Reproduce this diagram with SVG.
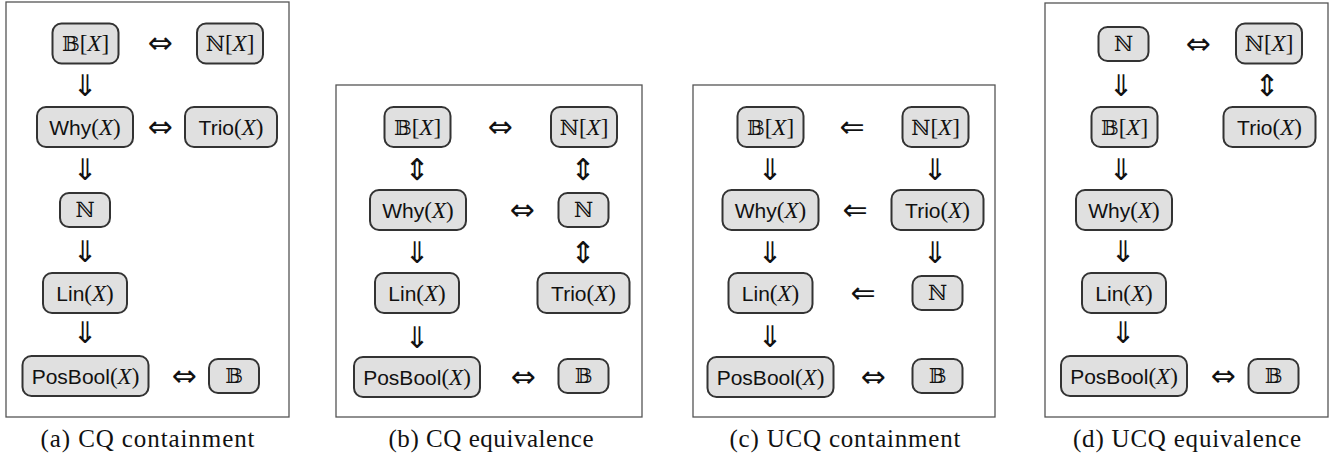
<svg xmlns="http://www.w3.org/2000/svg" width="1336" height="458" viewBox="0 0 1336 458">
<style>
.n rect{fill:#e0e0e0;stroke:#333;stroke-width:2}
.n text{font-size:21px;text-anchor:middle;fill:#111}
.sf{font-family:"Liberation Sans",Arial,sans-serif}
.rm{font-family:"Liberation Serif","Times New Roman",serif;font-size:23px}
.it{font-family:"Liberation Serif","Times New Roman",serif;font-style:italic;font-size:23px}
.bb{font-family:"DejaVu Serif",serif;font-weight:normal}
.ar{font-family:"DejaVu Sans",sans-serif;font-size:30px;text-anchor:middle;fill:#111}
.frame{fill:none;stroke:#555;stroke-width:1.3}
.cap{font-family:"Liberation Serif","Times New Roman",serif;font-size:25px;text-anchor:middle;fill:#111}
</style>
<rect width="1336" height="458" fill="#fff"/>
<g id="frames">
<rect class="frame" x="6" y="2" width="283" height="415"/>
<rect class="frame" x="336" y="85" width="306" height="332"/>
<rect class="frame" x="693" y="85" width="302" height="332"/>
<rect class="frame" x="1045" y="3" width="283" height="414"/>
</g>
<!-- Panel a -->
<g id="a_BX" class="n"><rect x="52.5" y="23.5" width="66" height="40" rx="9"/><text x="85.5" y="51"><tspan class="bb">𝔹</tspan><tspan class="rm">[</tspan><tspan class="it">X</tspan><tspan class="rm">]</tspan></text></g>
<g id="a_NX" class="n"><rect x="197" y="23.5" width="66" height="40" rx="9"/><text x="230" y="51"><tspan class="bb">ℕ</tspan><tspan class="rm">[</tspan><tspan class="it">X</tspan><tspan class="rm">]</tspan></text></g>
<g id="a_Why" class="n"><rect x="37" y="107" width="96" height="40" rx="9"/><text x="85" y="134.5"><tspan class="sf">Why</tspan><tspan class="rm">(</tspan><tspan class="it">X</tspan><tspan class="rm">)</tspan></text></g>
<g id="a_Trio" class="n"><rect x="185" y="107" width="92" height="40" rx="9"/><text x="231" y="134.5"><tspan class="sf">Trio</tspan><tspan class="rm">(</tspan><tspan class="it">X</tspan><tspan class="rm">)</tspan></text></g>
<g id="a_N" class="n"><rect x="60" y="193" width="50" height="34" rx="9"/><text x="85" y="217" class="bb">ℕ</text></g>
<g id="a_Lin" class="n"><rect x="43" y="273" width="84" height="40" rx="9"/><text x="85" y="300.5"><tspan class="sf">Lin</tspan><tspan class="rm">(</tspan><tspan class="it">X</tspan><tspan class="rm">)</tspan></text></g>
<g id="a_PB" class="n"><rect x="22.5" y="356" width="126" height="40" rx="9"/><text x="85.5" y="383.5"><tspan class="sf">PosBool</tspan><tspan class="rm">(</tspan><tspan class="it">X</tspan><tspan class="rm">)</tspan></text></g>
<g id="a_B" class="n"><rect x="209" y="359" width="50" height="34" rx="9"/><text x="234" y="383" class="bb">𝔹</text></g>
<!-- Panel b -->
<g id="b_BX" class="n"><rect x="384.5" y="107" width="66" height="40" rx="9"/><text x="417.5" y="134.5"><tspan class="bb">𝔹</tspan><tspan class="rm">[</tspan><tspan class="it">X</tspan><tspan class="rm">]</tspan></text></g>
<g id="b_NX" class="n"><rect x="551" y="107" width="66" height="40" rx="9"/><text x="584" y="134.5"><tspan class="bb">ℕ</tspan><tspan class="rm">[</tspan><tspan class="it">X</tspan><tspan class="rm">]</tspan></text></g>
<g id="b_Why" class="n"><rect x="370" y="190" width="96" height="40" rx="9"/><text x="418" y="217.5"><tspan class="sf">Why</tspan><tspan class="rm">(</tspan><tspan class="it">X</tspan><tspan class="rm">)</tspan></text></g>
<g id="b_N" class="n"><rect x="558.5" y="193" width="50" height="34" rx="9"/><text x="583.5" y="217" class="bb">ℕ</text></g>
<g id="b_Lin" class="n"><rect x="375" y="273" width="84" height="40" rx="9"/><text x="417" y="300.5"><tspan class="sf">Lin</tspan><tspan class="rm">(</tspan><tspan class="it">X</tspan><tspan class="rm">)</tspan></text></g>
<g id="b_Trio" class="n"><rect x="537.5" y="273" width="92" height="40" rx="9"/><text x="583.5" y="300.5"><tspan class="sf">Trio</tspan><tspan class="rm">(</tspan><tspan class="it">X</tspan><tspan class="rm">)</tspan></text></g>
<g id="b_PB" class="n"><rect x="354" y="357" width="126" height="40" rx="9"/><text x="417" y="384.5"><tspan class="sf">PosBool</tspan><tspan class="rm">(</tspan><tspan class="it">X</tspan><tspan class="rm">)</tspan></text></g>
<g id="b_B" class="n"><rect x="558.5" y="359" width="50" height="34" rx="9"/><text x="583.5" y="383" class="bb">𝔹</text></g>
<!-- Panel c -->
<g id="c_BX" class="n"><rect x="737.5" y="107" width="66" height="40" rx="9"/><text x="770.5" y="134.5"><tspan class="bb">𝔹</tspan><tspan class="rm">[</tspan><tspan class="it">X</tspan><tspan class="rm">]</tspan></text></g>
<g id="c_NX" class="n"><rect x="902.5" y="107" width="66" height="40" rx="9"/><text x="935.5" y="134.5"><tspan class="bb">ℕ</tspan><tspan class="rm">[</tspan><tspan class="it">X</tspan><tspan class="rm">]</tspan></text></g>
<g id="c_Why" class="n"><rect x="722.5" y="190" width="96" height="40" rx="9"/><text x="770.5" y="217.5"><tspan class="sf">Why</tspan><tspan class="rm">(</tspan><tspan class="it">X</tspan><tspan class="rm">)</tspan></text></g>
<g id="c_Trio" class="n"><rect x="891.5" y="190" width="92" height="40" rx="9"/><text x="937.5" y="217.5"><tspan class="sf">Trio</tspan><tspan class="rm">(</tspan><tspan class="it">X</tspan><tspan class="rm">)</tspan></text></g>
<g id="c_Lin" class="n"><rect x="728.5" y="273" width="84" height="40" rx="9"/><text x="770.5" y="300.5"><tspan class="sf">Lin</tspan><tspan class="rm">(</tspan><tspan class="it">X</tspan><tspan class="rm">)</tspan></text></g>
<g id="c_N" class="n"><rect x="912.5" y="276" width="50" height="34" rx="9"/><text x="937.5" y="300" class="bb">ℕ</text></g>
<g id="c_PB" class="n"><rect x="707.5" y="357" width="126" height="40" rx="9"/><text x="770.5" y="384.5"><tspan class="sf">PosBool</tspan><tspan class="rm">(</tspan><tspan class="it">X</tspan><tspan class="rm">)</tspan></text></g>
<g id="c_B" class="n"><rect x="912.5" y="359" width="50" height="34" rx="9"/><text x="937.5" y="383" class="bb">𝔹</text></g>
<!-- Panel d -->
<g id="d_N" class="n"><rect x="1098.5" y="27" width="50" height="34" rx="9"/><text x="1123.5" y="51" class="bb">ℕ</text></g>
<g id="d_NX" class="n"><rect x="1236" y="23.5" width="66" height="40" rx="9"/><text x="1269" y="51"><tspan class="bb">ℕ</tspan><tspan class="rm">[</tspan><tspan class="it">X</tspan><tspan class="rm">]</tspan></text></g>
<g id="d_BX" class="n"><rect x="1091.5" y="107" width="66" height="40" rx="9"/><text x="1124.5" y="134.5"><tspan class="bb">𝔹</tspan><tspan class="rm">[</tspan><tspan class="it">X</tspan><tspan class="rm">]</tspan></text></g>
<g id="d_Trio" class="n"><rect x="1223.5" y="107" width="92" height="40" rx="9"/><text x="1269.5" y="134.5"><tspan class="sf">Trio</tspan><tspan class="rm">(</tspan><tspan class="it">X</tspan><tspan class="rm">)</tspan></text></g>
<g id="d_Why" class="n"><rect x="1076" y="190" width="96" height="40" rx="9"/><text x="1124" y="217.5"><tspan class="sf">Why</tspan><tspan class="rm">(</tspan><tspan class="it">X</tspan><tspan class="rm">)</tspan></text></g>
<g id="d_Lin" class="n"><rect x="1082" y="273" width="84" height="40" rx="9"/><text x="1124" y="300.5"><tspan class="sf">Lin</tspan><tspan class="rm">(</tspan><tspan class="it">X</tspan><tspan class="rm">)</tspan></text></g>
<g id="d_PB" class="n"><rect x="1061" y="356" width="126" height="40" rx="9"/><text x="1124" y="383.5"><tspan class="sf">PosBool</tspan><tspan class="rm">(</tspan><tspan class="it">X</tspan><tspan class="rm">)</tspan></text></g>
<g id="d_B" class="n"><rect x="1248.5" y="359" width="50" height="34" rx="9"/><text x="1273.5" y="383" class="bb">𝔹</text></g>
<g id="connectors">
<text class="ar" x="160" y="53">⇔</text>
<text class="ar" x="85" y="96">⇓</text>
<text class="ar" x="160" y="137">⇔</text>
<text class="ar" x="85" y="180">⇓</text>
<text class="ar" x="85" y="262">⇓</text>
<text class="ar" x="85" y="343">⇓</text>
<text class="ar" x="184" y="386">⇔</text>

<text class="ar" x="500" y="137">⇔</text>
<text class="ar" x="417" y="180">⇕</text>
<text class="ar" x="583" y="180">⇕</text>
<text class="ar" x="522" y="220">⇔</text>
<text class="ar" x="417" y="263">⇓</text>
<text class="ar" x="583" y="263">⇕</text>
<text class="ar" x="417" y="348">⇓</text>
<text class="ar" x="523" y="387">⇔</text>

<text class="ar" x="852" y="137">⇐</text>
<text class="ar" x="770" y="180">⇓</text>
<text class="ar" x="935" y="180">⇓</text>
<text class="ar" x="855" y="220">⇐</text>
<text class="ar" x="770" y="263">⇓</text>
<text class="ar" x="935" y="263">⇓</text>
<text class="ar" x="863" y="303">⇐</text>
<text class="ar" x="770" y="347">⇓</text>
<text class="ar" x="873" y="387">⇔</text>

<text class="ar" x="1198" y="54">⇔</text>
<text class="ar" x="1121" y="96">⇓</text>
<text class="ar" x="1267" y="96">⇕</text>
<text class="ar" x="1121" y="180">⇓</text>
<text class="ar" x="1123" y="262">⇓</text>
<text class="ar" x="1123" y="343">⇓</text>
<text class="ar" x="1223" y="386">⇔</text>
</g>
<g id="captions">
<text class="cap" x="147.5" y="447" textLength="214" lengthAdjust="spacing">(a) CQ containment</text>
<text class="cap" x="491" y="447" textLength="205" lengthAdjust="spacing">(b) CQ equivalence</text>
<text class="cap" x="845" y="447" textLength="231" lengthAdjust="spacing">(c) UCQ containment</text>
<text class="cap" x="1187" y="447" textLength="228" lengthAdjust="spacing">(d) UCQ equivalence</text>
</g>
</svg>
